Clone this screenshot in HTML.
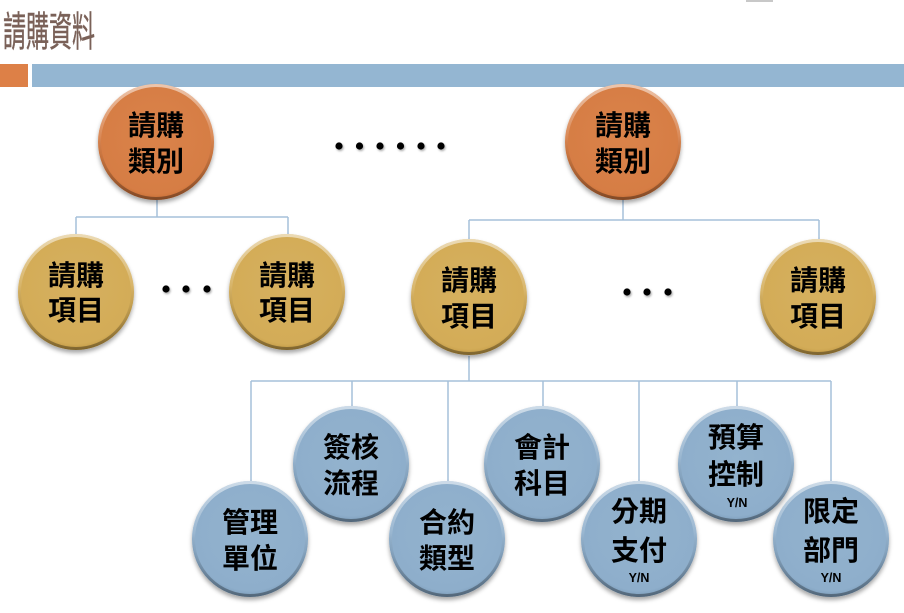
<!DOCTYPE html>
<html><head><meta charset="utf-8"><style>
html,body{margin:0;padding:0;background:#fff;}
svg{display:block;}
</style></head><body>
<svg width="904" height="613" viewBox="0 0 904 613" xmlns="http://www.w3.org/2000/svg" font-family="'Liberation Sans','Noto Sans CJK TC',sans-serif">
<defs>
<filter id="sh" x="-30%" y="-30%" width="160%" height="170%">
<feDropShadow dx="0" dy="3" stdDeviation="2.2" flood-color="#000" flood-opacity="0.35"/>
</filter>
<filter id="dsh" x="-100%" y="-100%" width="300%" height="300%">
<feDropShadow dx="1" dy="1.5" stdDeviation="1" flood-color="#000" flood-opacity="0.35"/>
</filter>
<linearGradient id="rim" x1="0" y1="0" x2="0" y2="1">
<stop offset="0" stop-color="#fff" stop-opacity="0.55"/>
<stop offset="0.45" stop-color="#fff" stop-opacity="0.1"/>
<stop offset="0.6" stop-color="#000" stop-opacity="0.05"/>
<stop offset="1" stop-color="#000" stop-opacity="0.35"/>
</linearGradient>
<radialGradient id="og" cx="0.5" cy="0.45" r="0.55">
<stop offset="0" stop-color="#da834a"/><stop offset="0.9" stop-color="#d67d44"/><stop offset="1" stop-color="#c86f38"/>
</radialGradient>
<radialGradient id="gg" cx="0.5" cy="0.45" r="0.55">
<stop offset="0" stop-color="#d6b05e"/><stop offset="0.9" stop-color="#d3ac58"/><stop offset="1" stop-color="#c29a45"/>
</radialGradient>
<radialGradient id="bg" cx="0.5" cy="0.45" r="0.55">
<stop offset="0" stop-color="#93b3ce"/><stop offset="0.9" stop-color="#8eaecb"/><stop offset="1" stop-color="#7d9dba"/>
</radialGradient>
</defs>

<!-- header -->
<rect x="746" y="0" width="27" height="2" fill="#c8c8c8"/>
<text x="3" y="46" font-size="41" fill="#7a6158" stroke="#7a6158" stroke-width="0.4" textLength="92" lengthAdjust="spacingAndGlyphs">請購資料</text>
<rect x="0" y="64" width="28" height="23" fill="#dd8047"/>
<rect x="32" y="64" width="872" height="23" fill="#94b6d2"/>

<!-- connectors -->
<g stroke="#a5c0da" stroke-width="1.5" fill="none">
<path d="M157 200 V217 M76 217 H288 M76 217 V234 M288 217 V234"/>
<path d="M623 200 V220 M469 220 H819 M469 220 V239 M819 220 V239"/>
<path d="M469 356 V381 M251 381 H831 M251 381 V481 M352 381 V406 M448 381 V481 M543 381 V406 M639 381 V481 M737 381 V406 M831 381 V481"/>
</g>

<!-- dots -->
<g fill="#000" filter="url(#dsh)">
<circle cx="339" cy="146" r="3.6"/><circle cx="359.5" cy="146" r="3.6"/><circle cx="380" cy="146" r="3.6"/>
<circle cx="400.5" cy="146" r="3.6"/><circle cx="421" cy="146" r="3.6"/><circle cx="441" cy="146" r="3.6"/>
<circle cx="166" cy="289" r="3.6"/><circle cx="186" cy="289" r="3.6"/><circle cx="207" cy="289" r="3.6"/>
<circle cx="627" cy="292" r="3.6"/><circle cx="647" cy="292" r="3.6"/><circle cx="668" cy="292" r="3.6"/>
</g>

<!-- circles -->
<g id="circles">
<g filter="url(#sh)"><circle cx="156" cy="142" r="58" fill="url(#og)"/></g>
<circle cx="156" cy="142" r="56.5" fill="none" stroke="url(#rim)" stroke-width="3"/>
<g filter="url(#sh)"><circle cx="623" cy="142" r="58" fill="url(#og)"/></g>
<circle cx="623" cy="142" r="56.5" fill="none" stroke="url(#rim)" stroke-width="3"/>
<g filter="url(#sh)"><circle cx="76" cy="292" r="58" fill="url(#gg)"/></g>
<circle cx="76" cy="292" r="56.5" fill="none" stroke="url(#rim)" stroke-width="3"/>
<g filter="url(#sh)"><circle cx="287" cy="292" r="58" fill="url(#gg)"/></g>
<circle cx="287" cy="292" r="56.5" fill="none" stroke="url(#rim)" stroke-width="3"/>
<g filter="url(#sh)"><circle cx="469" cy="297" r="58" fill="url(#gg)"/></g>
<circle cx="469" cy="297" r="56.5" fill="none" stroke="url(#rim)" stroke-width="3"/>
<g filter="url(#sh)"><circle cx="818" cy="297" r="58" fill="url(#gg)"/></g>
<circle cx="818" cy="297" r="56.5" fill="none" stroke="url(#rim)" stroke-width="3"/>
<g filter="url(#sh)"><circle cx="351" cy="464" r="58" fill="url(#bg)"/></g>
<circle cx="351" cy="464" r="56.5" fill="none" stroke="url(#rim)" stroke-width="3"/>
<g filter="url(#sh)"><circle cx="542" cy="464" r="58" fill="url(#bg)"/></g>
<circle cx="542" cy="464" r="56.5" fill="none" stroke="url(#rim)" stroke-width="3"/>
<g filter="url(#sh)"><circle cx="736" cy="464" r="58" fill="url(#bg)"/></g>
<circle cx="736" cy="464" r="56.5" fill="none" stroke="url(#rim)" stroke-width="3"/>
<g filter="url(#sh)"><circle cx="250" cy="539" r="58" fill="url(#bg)"/></g>
<circle cx="250" cy="539" r="56.5" fill="none" stroke="url(#rim)" stroke-width="3"/>
<g filter="url(#sh)"><circle cx="447" cy="539" r="58" fill="url(#bg)"/></g>
<circle cx="447" cy="539" r="56.5" fill="none" stroke="url(#rim)" stroke-width="3"/>
<g filter="url(#sh)"><circle cx="639" cy="539" r="58" fill="url(#bg)"/></g>
<circle cx="639" cy="539" r="56.5" fill="none" stroke="url(#rim)" stroke-width="3"/>
<g filter="url(#sh)"><circle cx="831" cy="539" r="58" fill="url(#bg)"/></g>
<circle cx="831" cy="539" r="56.5" fill="none" stroke="url(#rim)" stroke-width="3"/>
</g>

<!-- labels -->
<g font-size="28" font-weight="bold" fill="#000" text-anchor="middle">
<text x="156" y="135">請購</text><text x="156" y="171">類別</text>
<text x="623" y="135">請購</text><text x="623" y="171">類別</text>
<text x="76" y="285">請購</text><text x="76" y="320">項目</text>
<text x="287" y="285">請購</text><text x="287" y="320">項目</text>
<text x="469" y="290">請購</text><text x="469" y="326">項目</text>
<text x="818" y="290">請購</text><text x="818" y="326">項目</text>
<text x="351" y="457">簽核</text><text x="351" y="493">流程</text>
<text x="542" y="457">會計</text><text x="542" y="493">科目</text>
<text x="250" y="532">管理</text><text x="250" y="568">單位</text>
<text x="447" y="532">合約</text><text x="447" y="568">類型</text>
<text x="736" y="447">預算</text><text x="736" y="484">控制</text>
<text x="639" y="521">分期</text><text x="639" y="560">支付</text>
<text x="831" y="521">限定</text><text x="831" y="560">部門</text>
</g>
<g font-size="12.5" font-weight="bold" fill="#000" text-anchor="middle" font-family="'Liberation Sans',sans-serif">
<text x="737" y="507">Y/N</text>
<text x="639" y="582">Y/N</text>
<text x="831" y="582">Y/N</text>
</g>
</svg>
</body></html>
